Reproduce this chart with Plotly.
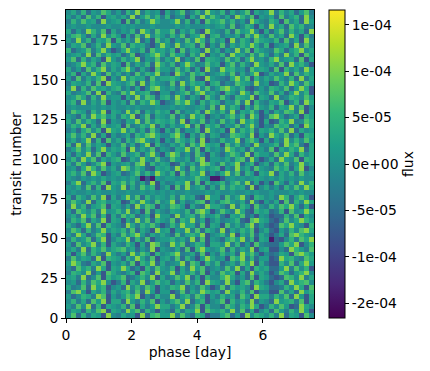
"""Phase-folded transit residuals as a heatmap, hand-estimated on a coarse grid."""

import plotly.graph_objects as go

PHASE_MAX = 7.56
TRANSIT_MAX = 194

# flux for each digit in the rows below
flux_levels = [-1.4e-4, -7.5e-5, -5e-5, -2.5e-5, -5e-6, 1.5e-5, 3e-5, 5e-5, 7e-5, 1.05e-4]

# one string per row, top of the picture first, estimated by eye (not cell exact)
flux_rows = [
    "4637254863 5274936451 6358247395 4726358164 5937462583",
    "5362847156 4639258473 7245163948 5362974815 4628357294",
    "3748562945 6182735964 4593726185 6847352964 3751846295",
    "4544544454 4545444544 4454544454 5638247516 3946285734",
    "6253974816 3547296385 5826473195 4372856941 6258374629",
    "4785263947 5162839475 3748256916 7354628495 3846295173",
    "5394726581 7463925184 6253849727 4619375286 5472836194",
    "3658247395 4827563149 5394672815 3826475963 7145629384",
    "7245836941 3695472856 4718365294 6253948175 4386257946",
    "4563928475 6248135796 3856274915 4729563848 5263947185",
    "5827364195 3746925483 6492538176 5384726945 3794562816",
    "3469572846 5183647296 4725963485 6158374295 4638295741",
    "6352847936 4795263185 5384726194 3967452856 5281746395",
    "4716395284 6352847593 4196385724 5748263691 3645928475",
    "5283647915 3947562846 6753482195 4326958174 6485372936",
    "3654728196 5468293754 3829475616 7243865394 5127496385",
    "4927385646 7352614895 4637259483 5896472135 3764825961",
    "6345829174 3859467215 5246837946 4175396285 4836259471",
    "4586273945 5163948726 7395264185 3842765916 5293476485",
    "5729364815 4628375961 3486952747 6254839174 3658147296",
    "4544454545 4454544454 4545445638 2947516385 4726593814",
    "3865274916 5394826475 6183547296 4739265841 5264873915",
    "5427396846 3759148265 4826395714 5368472961 3895246175",
    "6384752915 4265938476 5739164825 3846295741 6127593486",
    "4759263845 6183475926 3645928175 7254836941 4386725196",
    "3526847196 5947362841 6382547195 4619375826 5748392645",
    "5847392615 3462758964 4795163826 5238764915 3964825176",
    "4635927184 6274895361 5386472914 3745926851 6253947485",
    "7293846515 4836259174 3647285965 6184735294 4572968316",
    "3584726946 5719364825 4265938174 5397462845 3816475926",
    "5264938175 3845726941 6973528416 4258639175 5384962746",
    "4739582646 7126495384 3854627915 5463782941 3629548176",
    "6385247915 4563892746 5127463985 3846925714 6274835946",
    "4526973846 3984752165 6395284746 7153946285 4385726914",
    "5748296135 6235847496 4718365925 3694827516 5926473845",
    "5435454645 4546401054 5545458540 0145454565 4546454544",
    "3692574816 5847362915 3465928174 5736849261 4185263947",
    "5463827195 4926385714 6183945726 3847562914 6352748496",
    "4544545445 4454454545 4544544454 5445445454 4544454544",
    "6275384916 3594827465 4738562195 5284693176 4539726851",
    "4853926745 6127495384 5926347815 3785462931 5361827496",
    "3947256816 5362948715 4875163296 6429375184 3748695261",
    "5286473945 7493518264 3654728961 4853962175 6237184596",
    "4639582716 3857246195 5294673845 7316582415 4122738164",
    "3758264916 5163948275 4827593614 6345721896 5213846975",
    "6425938175 4296375841 3749562816 5184637925 3128695417",
    "4862735946 5738264195 6154938275 3926475814 6215374896",
    "5396248715 3847952646 4283675914 5739164826 4136289754",
    "3745826914 6592738145 5746392815 4268593716 5021473869",
    "5284693716 4375162984 3958247616 6493725184 3225869147",
    "4639275846 7846253915 4362817954 5827364915 6114297538",
    "6158374295 3529486174 5793462815 3746295841 4236518975",
    "3846529176 5274963815 6382741596 4518693725 5129674386",
    "5973264815 4638175926 3459286174 7246385916 3117482695",
    "4285739616 5962417385 4716395824 5384926175 6225938471",
    "3764925186 4357186294 5926473815 3857162946 4138625794",
    "5639248175 6823574916 3485926174 4796352816 5212874936",
    "4527386941 3716492585 6253847196 5394168275 3146295784",
    "6348295714 5294738615 4769253841 3827564196 5223749618",
    "3895164726 4673829515 5138264975 6295473814 4118362957",
    "5247639815 3586914274 4925738615 3746285196 6374829516",
    "4736285916 6295374815 3684925714 5817463925 4295673816",
    "5384927165 4728163596 6359248174 4286375961 3748512964",
    "3652748916 5396827415 4273659186 5749382614 6285374951",
    "4827365194 3645192785 5938427613 3682519476 4739265184",
]

colorbar_ticks = [-1.5e-4, -1e-4, -5e-5, 0, 5e-5, 1e-4, 1.5e-4]
colorbar_labels = ["-2e-04", "-1e-04", "-5e-05", "0e+00", "5e-05", "1e-04", "1e-04"]

# bottom row first, so transit number grows upwards
flux = [[flux_levels[int(c)] for c in row.replace(" ", "")] for row in flux_rows[::-1]]
n_rows, n_cols = len(flux), len(flux[0])
dx = PHASE_MAX / n_cols
dy = TRANSIT_MAX / n_rows

fig = go.Figure(
    go.Heatmap(
        z=flux,
        x0=dx / 2,
        dx=dx,
        y0=dy / 2,
        dy=dy,
        zmin=-1.66e-4,
        zmax=1.66e-4,
        colorscale="Viridis",
        colorbar=dict(
            title=dict(text="flux", side="right", font=dict(size=13.9)),
            tickvals=colorbar_ticks,
            ticktext=colorbar_labels,
            ticks="outside",
            ticklen=4,
            tickcolor="black",
            outlinecolor="black",
            outlinewidth=1,
            thickness=16,
            len=1,
            lenmode="fraction",
            x=1.06,
            xanchor="left",
            xpad=0,
            ypad=0,
        ),
    )
)

# the page body adds about 8px around the figure
fig.update_layout(
    width=422,
    height=363,
    margin=dict(l=58, r=116, t=2, b=53),
    paper_bgcolor="white",
    plot_bgcolor="white",
    font=dict(family="DejaVu Sans", size=13.9, color="black"),
)
fig.update_xaxes(
    title_text="phase [day]",
    title_font_size=13.9,
    title_standoff=5,
    range=[0, PHASE_MAX],
    tickvals=[0, 2, 4, 6],
    ticks="outside",
    ticklen=4,
    tickcolor="black",
    showgrid=False,
    zeroline=False,
    showline=True,
    linecolor="black",
    mirror=True,
)
fig.update_yaxes(
    title_text="transit number",
    title_font_size=13.9,
    title_standoff=6,
    range=[0, TRANSIT_MAX],
    tickvals=[0, 25, 50, 75, 100, 125, 150, 175],
    ticks="outside",
    ticklen=4,
    tickcolor="black",
    showgrid=False,
    zeroline=False,
    showline=True,
    linecolor="black",
    mirror=True,
)

fig.write_html("out.html")
